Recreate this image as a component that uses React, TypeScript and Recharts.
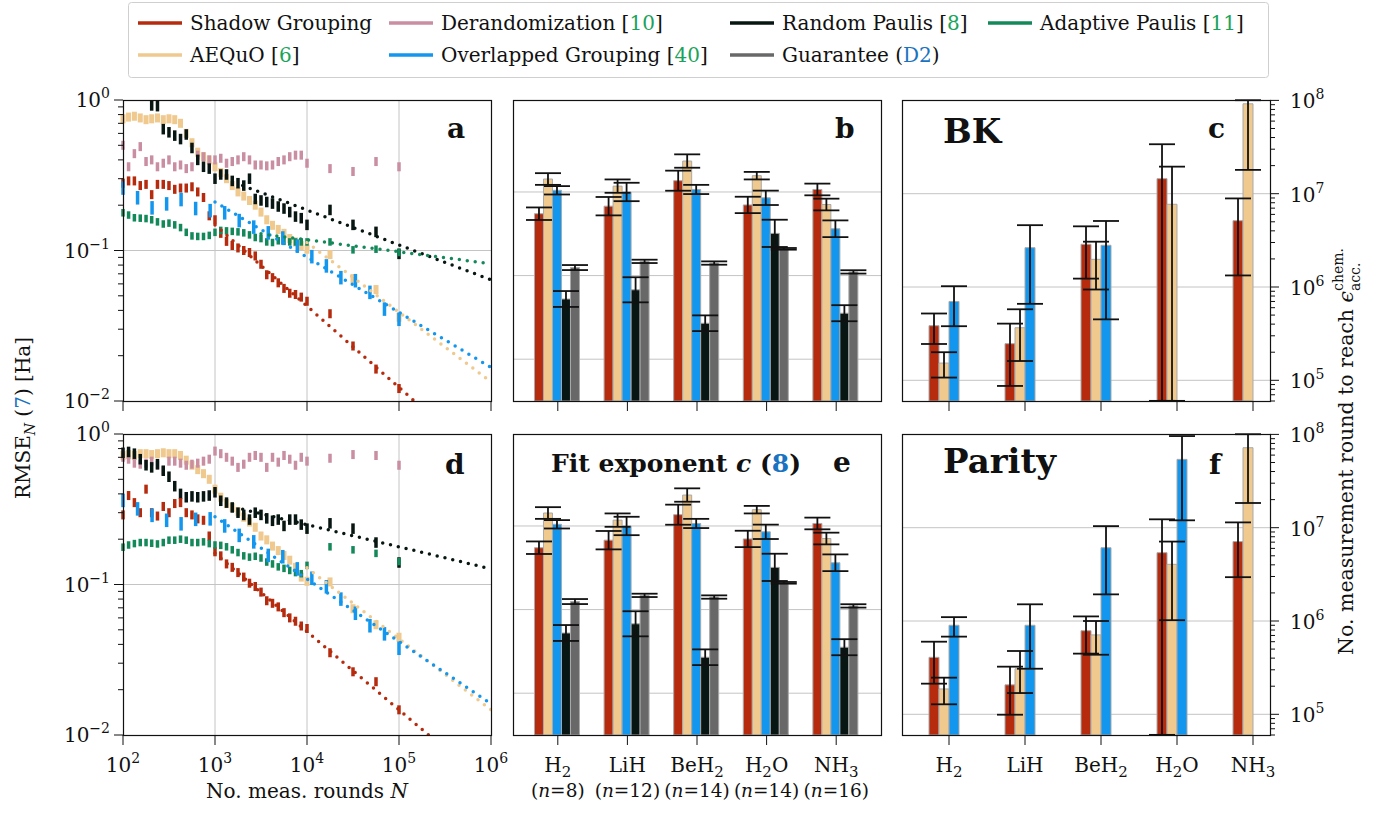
import React from 'react';
import {
  ComposedChart,
  BarChart,
  Bar,
  Scatter,
  Line,
  XAxis,
  YAxis,
  CartesianGrid,
  ErrorBar,
} from 'recharts';

const FONT = '"DejaVu Serif", "Liberation Serif", serif';
const INK = '#111';
const GRID = '#c4c4c4';
const CITE = '#1aa35a';
const LINK = '#1a73c0';

const COLORS = {
  shadow: '#b62b0d',
  derand: '#c98ea2',
  random: '#071612',
  adaptive: '#13895a',
  aequo: '#efc98e',
  overlap: '#1396ee',
  guarantee: '#686868',
};

// ---- panels a / d : RMSE vs N ----
const N_GRID = [
  100, 115, 133, 154, 178, 205, 237, 274, 316, 365, 422, 487, 562, 649, 750, 866, 1000,
  1155, 1334, 1540, 1778, 2054, 2371, 2738, 3162, 3652, 4217, 4870, 5623, 6494, 7499, 8660, 10000,
  17783, 31623, 56234, 100000,
];
const N_OVERLAP = [
  100, 144, 207, 298, 428, 616, 886, 1274, 1833, 2637, 3793, 5456, 7848, 11290, 16240, 23357,
  33598, 48329, 69519, 100000,
];

// null = above the plotted range
const A_SHADOW = [0.28, 0.29, 0.29, 0.27, 0.275, 0.235, 0.275, 0.275, 0.27, 0.255, 0.26, 0.26, 0.265, 0.245, 0.225, 0.17, 0.16, 0.13, 0.115, 0.108, 0.104, 0.1, 0.097, 0.092, 0.081, 0.069, 0.066, 0.061, 0.056, 0.052, 0.051, 0.049, 0.046, 0.038, 0.0232, 0.0163, 0.0121];
const A_AEQUO = [0.75, 0.77, 0.78, 0.76, 0.74, 0.75, 0.76, 0.74, 0.75, 0.74, 0.7, 0.6, 0.52, 0.45, 0.42, 0.4, 0.36, 0.33, 0.3, 0.27, 0.245, 0.23, 0.215, 0.2, 0.18, 0.16, 0.147, 0.138, 0.13, 0.12, 0.114, 0.108, 0.102, 0.094, 0.065, 0.055, 0.036];
const A_DERAND = [0.5, 0.36, 0.44, 0.49, 0.39, 0.4, 0.36, 0.38, 0.4, 0.36, 0.37, 0.35, 0.36, 0.43, 0.42, 0.4, 0.4, 0.41, 0.38, 0.39, 0.4, 0.42, 0.4, 0.37, 0.37, 0.365, 0.37, 0.39, 0.4, 0.42, 0.43, 0.43, 0.38, 0.35, 0.335, 0.39, 0.36];
const A_RANDOM = [null, null, null, null, null, 0.92, 0.91, 0.64, 0.61, 0.58, 0.55, 0.59, 0.48, 0.4, 0.36, 0.35, 0.3, 0.32, 0.32, 0.29, 0.28, 0.27, 0.3, 0.22, 0.215, 0.21, 0.205, 0.196, 0.19, 0.18, 0.168, 0.164, 0.148, 0.186, 0.148, 0.133, 0.095];
const A_ADAPTIVE = [0.178, 0.172, 0.165, 0.164, 0.163, 0.16, 0.155, 0.15, 0.152, 0.148, 0.142, 0.132, 0.125, 0.124, 0.124, 0.126, 0.132, 0.136, 0.135, 0.134, 0.133, 0.131, 0.127, 0.122, 0.12, 0.114, 0.113, 0.116, 0.115, 0.114, 0.114, 0.114, 0.114, 0.114, 0.101, 0.102, 0.097];
const A_OVERLAP = [0.26, 0.224, 0.192, 0.204, 0.218, 0.19, 0.184, 0.178, 0.158, 0.143, 0.131, 0.121, 0.107, 0.091, 0.079, 0.066, 0.063, 0.0527, 0.0408, 0.0349];

const D_SHADOW = [0.29, 0.39, 0.35, 0.3, 0.43, 0.3, 0.285, 0.33, 0.3, 0.345, 0.35, 0.3, 0.29, 0.273, 0.267, 0.21, 0.165, 0.155, 0.137, 0.13, 0.12, 0.112, 0.102, 0.097, 0.089, 0.078, 0.075, 0.071, 0.065, 0.06, 0.057, 0.053, 0.051, 0.0352, 0.0263, 0.0226, 0.0147];
const D_AEQUO = [0.72, 0.73, 0.72, 0.74, 0.74, 0.73, 0.74, 0.75, 0.74, 0.74, 0.72, 0.67, 0.62, 0.58, 0.545, 0.5, 0.43, 0.38, 0.345, 0.325, 0.305, 0.28, 0.26, 0.24, 0.21, 0.198, 0.18, 0.168, 0.156, 0.145, 0.13, 0.112, 0.105, 0.104, 0.069, 0.054, 0.0446];
const D_DERAND = [0.7, 0.68, 0.64, 0.63, 0.64, 0.66, 0.62, 0.57, 0.66, 0.66, 0.64, 0.62, 0.63, 0.64, 0.66, 0.68, 0.77, 0.74, 0.7, 0.66, 0.6, 0.63, 0.7, 0.72, 0.7, 0.6, 0.7, 0.65, 0.72, 0.68, 0.62, 0.7, 0.66, 0.69, 0.73, 0.72, 0.62];
const D_RANDOM = [0.75, 0.76, 0.74, 0.68, 0.62, 0.6, 0.63, 0.57, 0.52, 0.45, 0.4, 0.38, 0.385, 0.38, 0.385, 0.39, 0.41, 0.36, 0.35, 0.325, 0.3, 0.29, 0.27, 0.3, 0.29, 0.275, 0.265, 0.27, 0.245, 0.27, 0.27, 0.25, 0.235, 0.255, 0.235, 0.19, 0.14];
const D_ADAPTIVE = [0.177, 0.183, 0.187, 0.19, 0.19, 0.188, 0.186, 0.19, 0.197, 0.197, 0.2, 0.197, 0.19, 0.19, 0.192, 0.187, 0.183, 0.182, 0.178, 0.17, 0.163, 0.155, 0.152, 0.154, 0.15, 0.141, 0.137, 0.131, 0.128, 0.124, 0.12, 0.118, 0.134, 0.178, 0.17, 0.161, 0.142];
const D_OVERLAP = [0.362, 0.318, 0.288, 0.267, 0.253, 0.271, 0.273, 0.245, 0.212, 0.192, 0.156, 0.153, 0.127, 0.11, 0.0966, 0.08, 0.0644, 0.0532, 0.047, 0.0377];

// half length of each vertical mark, in decades
const SPREAD = { shadow: 0.03, aequo: 0.03, derand: 0.03, random: 0.035, adaptive: 0.025, overlap: 0.045 };

// dotted power-law fits: [start, end]
const A_FITS = [
  { key: 'aequo', n: [1e4, 1e6], v: [0.113, 0.0134] },
  { key: 'overlap', n: [1e3, 1e6], v: [0.21, 0.0167] },
  { key: 'shadow', n: [1e3, 1e6], v: [0.148, 0.00355] },
  { key: 'random', n: [2e3, 1e6], v: [0.27, 0.0638] },
  { key: 'adaptive', n: [3162, 1e6], v: [0.129, 0.0817] },
];
const D_FITS = [
  { key: 'aequo', n: [1e4, 1e6], v: [0.129, 0.0147] },
  { key: 'overlap', n: [1e3, 1e6], v: [0.282, 0.0161] },
  { key: 'shadow', n: [1e3, 1e6], v: [0.161, 0.00444] },
  { key: 'random', n: [2e3, 1e6], v: [0.316, 0.127] },
];

const X_TICKS = [1e2, 1e3, 1e4, 1e5, 1e6];
const Y_TICKS = [0.01, 0.02, 0.03, 0.04, 0.05, 0.06, 0.07, 0.08, 0.09, 0.1, 0.2, 0.3, 0.4, 0.5, 0.6, 0.7, 0.8, 0.9, 1];

// ---- panels b / e : fit exponent ----
const MOLECULES = ['H2', 'LiH', 'BeH2', 'H2O', 'NH3'];
const QUBITS = ['8', '12', '14', '14', '16'];

const FIT_SHADOW = [0.374, 0.383, 0.4135, 0.3845, 0.403];
const FIT_SHADOW_ERR = [0.0075, 0.011, 0.012, 0.0098, 0.007];
const FIT_AEQUO = [0.4155, 0.407, 0.437, 0.4195, 0.385];
const FIT_AEQUO_ERR = [0.007, 0.008, 0.008, 0.0045, 0.007];
const FIT_OVERLAP = [0.402, 0.4, 0.403, 0.393, 0.356];
const FIT_OVERLAP_ERR = [0.005, 0.011, 0.0055, 0.0086, 0.01];
const FIT_RANDOM = [0.272, 0.283, 0.243, 0.3505, 0.255];
const FIT_RANDOM_ERR = [0.0095, 0.015, 0.0094, 0.0163, 0.0096];
const FIT_GUARANTEE = [0.3096, 0.317, 0.315, 0.332, 0.3044];
const FIT_GUARANTEE_ERR = [0.003, 0.002, 0.002, 0.001, 0.002];

// ---- panels c / f : rounds to chemical accuracy (bounds cut at the axis limits) ----
const BK_SHADOW = [3.85e5, 2.47e5, 2.87e6, 1.45e7, 5.14e6];
const BK_SHADOW_LO = [2.45e5, 8.7e4, 1.23e6, 6.02e4, 1.33e6];
const BK_SHADOW_HI = [5.2e5, 4.05e5, 4.47e6, 3.39e7, 8.9e6];
const BK_AEQUO = [1.53e5, 3.66e5, 1.98e6, 7.7e6, 9.2e7];
const BK_AEQUO_LO = [1.07e5, 1.61e5, 9.4e5, 6.02e4, 1.8e7];
const BK_AEQUO_HI = [2.0e5, 5.77e5, 3.06e6, 1.95e7, 1.005e8];
const BK_OVERLAP = [7.0e5, 2.64e6, 2.8e6, null, null];
const BK_OVERLAP_LO = [3.8e5, 6.6e5, 4.5e5, null, null];
const BK_OVERLAP_HI = [1.02e6, 4.6e6, 5.1e6, null, null];

const PAR_SHADOW = [4.08e5, 2.07e5, 7.87e5, 5.4e6, 7.1e6];
const PAR_SHADOW_LO = [2.13e5, 9.9e4, 4.47e5, 6.02e4, 2.95e6];
const PAR_SHADOW_HI = [6.0e5, 3.24e5, 1.12e6, 1.23e7, 1.14e7];
const PAR_AEQUO = [1.87e5, 3.08e5, 7.1e5, 4.05e6, 7.2e7];
const PAR_AEQUO_LO = [1.28e5, 1.69e5, 4.35e5, 1.02e6, 1.84e7];
const PAR_AEQUO_HI = [2.47e5, 4.77e5, 1.0e6, 7.1e6, 1.005e8];
const PAR_OVERLAP = [9.0e5, 9.0e5, 6.1e6, 5.4e7, null];
const PAR_OVERLAP_LO = [6.8e5, 3.08e5, 1.93e6, 1.2e7, null];
const PAR_OVERLAP_HI = [1.1e6, 1.51e6, 1.04e7, 9.6e7, null];

const R_TICKS = [
  6e4, 7e4, 8e4, 9e4, 1e5, 2e5, 3e5, 4e5, 5e5, 6e5, 7e5, 8e5, 9e5, 1e6, 2e6, 3e6, 4e6, 5e6, 6e6,
  7e6, 8e6, 9e6, 1e7, 2e7, 3e7, 4e7, 5e7, 6e7, 7e7, 8e7, 9e7, 1e8,
];

// ---- layout ----
const PW = 368;
const PH = 301;
const COL_X = [123, 513, 902];
const ROW_Y = [100, 434];
const PAD = { l: 100, r: 100, t: 20, b: 80 };

const pts = (ns: number[], vs: (number | null)[], spread: number) => {
  const f = Math.pow(10, spread);
  return vs
    .map((v, i) => (v == null ? null : { n: ns[i], v, e: [v - v / f, v * f - v] }))
    .filter(Boolean) as { n: number; v: number; e: number[] }[];
};

const fitPts = (ns: number[], vs: number[]) => ns.map((n, i) => ({ n, v: vs[i] }));

const bounds = (v: number | null, lo: number | null, hi: number | null) =>
  v == null || lo == null || hi == null ? undefined : [v - lo, hi - v];

const isPow10 = (v: number) => Math.abs(Math.log10(v) - Math.round(Math.log10(v))) < 1e-9;
const expo = (v: number) => {
  const e = Math.round(Math.log10(v));
  return e < 0 ? `\u2212${-e}` : `${e}`;
};

const chem = (s: string) =>
  s
    .split(/(\d+)/)
    .filter(Boolean)
    .map((part, i) =>
      /\d/.test(part) ? (
        <tspan key={i} dy={5} fontSize={15}>
          {part}
        </tspan>
      ) : (
        <tspan key={i} dy={i === 0 ? 0 : -5}>
          {part}
        </tspan>
      ),
    );

const NoShape = () => <g />;

function LeftLogTick(props: any) {
  const { x, y, payload } = props;
  const major = isPow10(payload.value);
  return (
    <g>
      <line x1={x} x2={x - (major ? 9 : 5)} y1={y} y2={y} stroke={INK} />
      {major && (
        <text x={x - 13} y={y + 7} textAnchor="end" fontFamily={FONT} fontSize={20} fill={INK}>
          10
          <tspan dy={-9} fontSize={14}>
            {expo(payload.value)}
          </tspan>
        </text>
      )}
    </g>
  );
}

function RightLogTick(props: any) {
  const { x, y, payload } = props;
  const major = isPow10(payload.value);
  return (
    <g>
      <line x1={x} x2={x + (major ? 9 : 5)} y1={y} y2={y} stroke={INK} />
      {major && (
        <text x={x + 20} y={y + 8} textAnchor="start" fontFamily={FONT} fontSize={20} fill={INK}>
          10
          <tspan dy={-9} fontSize={14}>
            {expo(payload.value)}
          </tspan>
        </text>
      )}
    </g>
  );
}

function BottomLogTick(props: any) {
  const { x, y, payload, showLabel } = props;
  return (
    <g>
      <line x1={x} x2={x} y1={y} y2={y + 10} stroke={INK} />
      {showLabel && (
        <text x={x} y={y + 37} textAnchor="middle" fontFamily={FONT} fontSize={20} fill={INK}>
          10
          <tspan dy={-9} fontSize={14}>
            {expo(payload.value)}
          </tspan>
        </text>
      )}
    </g>
  );
}

function MolTick(props: any) {
  const { x, y, payload, index, showLabel, showQubits } = props;
  return (
    <g>
      <line x1={x} x2={x} y1={y} y2={y + 10} stroke={INK} />
      {showLabel && (
        <text x={x} y={y + 37} textAnchor="middle" fontFamily={FONT} fontSize={20} fill={INK}>
          {chem(payload.value)}
        </text>
      )}
      {showQubits && (
        <text x={x} y={y + 62} textAnchor="middle" fontFamily={FONT} fontSize={18.5} fill={INK}>
          (<tspan fontStyle="italic">n</tspan>={QUBITS[index]})
        </text>
      )}
    </g>
  );
}

type Series = { key: keyof typeof COLORS; ns: number[]; vs: (number | null)[]; w: number };

function RmsePanel({ x, y, series, fits, showLabels }: { x: number; y: number; series: Series[]; fits: typeof A_FITS; showLabels: boolean }) {
  return (
    <div style={{ position: 'absolute', left: x - PAD.l, top: y - PAD.t }}>
      <ComposedChart width={PAD.l + PW + PAD.r} height={PAD.t + PH + PAD.b} margin={{ top: PAD.t, right: PAD.r, bottom: 0, left: 0 }}>
        <CartesianGrid stroke={GRID} horizontalValues={[0.1]} verticalValues={[1e3, 1e4, 1e5]} />
        <XAxis
          dataKey="n"
          type="number"
          scale="log"
          domain={[100, 1e6]}
          ticks={X_TICKS}
          allowDataOverflow
          height={PAD.b}
          axisLine={false}
          tickLine={false}
          tickSize={0}
          tickMargin={0}
          interval={0}
          tick={<BottomLogTick showLabel={showLabels} />}
        />
        <YAxis
          dataKey="v"
          type="number"
          scale="log"
          domain={[0.01, 1]}
          ticks={Y_TICKS}
          allowDataOverflow
          width={PAD.l}
          axisLine={false}
          tickLine={false}
          tickSize={0}
          tickMargin={0}
          interval={0}
          tick={<LeftLogTick />}
        />
        {series.map((s) => (
          <Scatter key={s.key} data={pts(s.ns, s.vs, SPREAD[s.key])} dataKey="v" shape={NoShape} isAnimationActive={false}>
            <ErrorBar dataKey="e" direction="y" width={0} stroke={COLORS[s.key]} strokeWidth={s.w} />
          </Scatter>
        ))}
        {fits.map((f) => (
          <Line
            key={f.key}
            data={fitPts(f.n, f.v)}
            dataKey="v"
            stroke={COLORS[f.key as keyof typeof COLORS]}
            strokeWidth={3.5}
            strokeDasharray="0 8"
            strokeLinecap="round"
            dot={false}
            isAnimationActive={false}
          />
        ))}
      </ComposedChart>
    </div>
  );
}

const FIT_TABLE = MOLECULES.map((mol, i) => ({
  mol,
  shadow: FIT_SHADOW[i],
  shadowErr: FIT_SHADOW_ERR[i],
  aequo: FIT_AEQUO[i],
  aequoErr: FIT_AEQUO_ERR[i],
  overlap: FIT_OVERLAP[i],
  overlapErr: FIT_OVERLAP_ERR[i],
  random: FIT_RANDOM[i],
  randomErr: FIT_RANDOM_ERR[i],
  guarantee: FIT_GUARANTEE[i],
  guaranteeErr: FIT_GUARANTEE_ERR[i],
}));

const roundsTable = (s: any[], sl: any[], sh: any[], a: any[], al: any[], ah: any[], o: any[], ol: any[], oh: any[]) =>
  MOLECULES.map((mol, i) => ({
    mol,
    shadow: s[i],
    shadowErr: bounds(s[i], sl[i], sh[i]),
    aequo: a[i],
    aequoErr: bounds(a[i], al[i], ah[i]),
    overlap: o[i],
    overlapErr: bounds(o[i], ol[i], oh[i]),
  }));

const BK_TABLE = roundsTable(BK_SHADOW, BK_SHADOW_LO, BK_SHADOW_HI, BK_AEQUO, BK_AEQUO_LO, BK_AEQUO_HI, BK_OVERLAP, BK_OVERLAP_LO, BK_OVERLAP_HI);
const PAR_TABLE = roundsTable(PAR_SHADOW, PAR_SHADOW_LO, PAR_SHADOW_HI, PAR_AEQUO, PAR_AEQUO_LO, PAR_AEQUO_HI, PAR_OVERLAP, PAR_OVERLAP_LO, PAR_OVERLAP_HI);

const BAR_EDGE = '#a9a9a9';

function ExponentPanel({ x, y, showLabels }: { x: number; y: number; showLabels: boolean }) {
  const keys: (keyof typeof COLORS)[] = ['shadow', 'aequo', 'overlap', 'random', 'guarantee'];
  return (
    <div style={{ position: 'absolute', left: x - PAD.l, top: y - PAD.t }}>
      <BarChart
        width={PAD.l + PW + PAD.r}
        height={PAD.t + PH + PAD.b}
        data={FIT_TABLE}
        margin={{ top: PAD.t, right: PAD.r, bottom: 0, left: PAD.l }}
        barCategoryGap="16.5%"
        barGap={0}
      >
        <CartesianGrid stroke={GRID} vertical={false} horizontalValues={[0.2, 0.3, 0.4]} />
        <XAxis
          dataKey="mol"
          height={PAD.b}
          padding={{ left: 10, right: 10 }}
          axisLine={false}
          tickLine={false}
          tickSize={0}
          tickMargin={0}
          interval={0}
          tick={<MolTick showLabel={showLabels} showQubits={showLabels} />}
        />
        <YAxis hide type="number" domain={[0.15, 0.51]} allowDataOverflow />
        {keys.map((k) => (
          <Bar key={k} dataKey={k} fill={COLORS[k]} stroke={BAR_EDGE} strokeWidth={1} isAnimationActive={false}>
            <ErrorBar dataKey={`${k}Err`} width={13} stroke={INK} strokeWidth={1.8} />
          </Bar>
        ))}
      </BarChart>
    </div>
  );
}

function RoundsPanel({ x, y, data, showLabels }: { x: number; y: number; data: any[]; showLabels: boolean }) {
  const keys: (keyof typeof COLORS)[] = ['shadow', 'aequo', 'overlap'];
  return (
    <div style={{ position: 'absolute', left: x - PAD.l, top: y - PAD.t }}>
      <BarChart
        width={PAD.l + PW + PAD.r}
        height={PAD.t + PH + PAD.b}
        data={data}
        margin={{ top: PAD.t, right: 0, bottom: 0, left: PAD.l }}
        barCategoryGap="23.7%"
        barGap={0}
      >
        <CartesianGrid stroke={GRID} vertical={false} horizontalValues={[1e5, 1e6, 1e7]} />
        <XAxis
          dataKey="mol"
          height={PAD.b}
          padding={{ left: 9, right: -21 }}
          axisLine={false}
          tickLine={false}
          tickSize={0}
          tickMargin={0}
          interval={0}
          tick={<MolTick showLabel={showLabels} showQubits={false} />}
        />
        <YAxis
          orientation="right"
          type="number"
          scale="log"
          domain={[6e4, 1.01e8]}
          ticks={R_TICKS}
          allowDataOverflow
          width={PAD.r}
          axisLine={false}
          tickLine={false}
          tickSize={0}
          tickMargin={0}
          interval={0}
          tick={<RightLogTick />}
        />
        {keys.map((k) => (
          <Bar key={k} dataKey={k} fill={COLORS[k]} stroke={BAR_EDGE} strokeWidth={1} isAnimationActive={false}>
            <ErrorBar dataKey={`${k}Err`} width={13} stroke={INK} strokeWidth={1.8} />
          </Bar>
        ))}
        <Bar dataKey="slot" fill="none" isAnimationActive={false} />
      </BarChart>
    </div>
  );
}

const LEGEND_ITEMS: { key: keyof typeof COLORS; label: string; cite: string }[] = [
  { key: 'shadow', label: 'Shadow Grouping', cite: '' },
  { key: 'derand', label: 'Derandomization', cite: '10' },
  { key: 'random', label: 'Random Paulis', cite: '8' },
  { key: 'adaptive', label: 'Adaptive Paulis', cite: '11' },
  { key: 'aequo', label: 'AEQuO', cite: '6' },
  { key: 'overlap', label: 'Overlapped Grouping', cite: '40' },
  { key: 'guarantee', label: 'Guarantee', cite: 'D2' },
];
const LEGEND_COLS = [138, 389, 730, 988];
const LEGEND_ROWS = [23, 55];

function Overlay() {
  const frames = [0, 1].flatMap((r) => [0, 1, 2].map((c) => ({ x: COL_X[c], y: ROW_Y[r] })));
  const txt = { fontFamily: FONT, fill: INK };
  return (
    <svg width={1387} height={815} style={{ position: 'absolute', left: 0, top: 0, pointerEvents: 'none' }}>
      {frames.map((f, i) => (
        <rect key={i} x={f.x + 0.5} y={f.y + 0.5} width={PW} height={PH} fill="none" stroke={INK} strokeWidth={1.2} />
      ))}

      <rect x={128.5} y={2.5} width={1140} height={75} rx={3} fill="white" stroke="#cfcfcf" />
      {LEGEND_ITEMS.map((it, i) => {
        const lx = LEGEND_COLS[i % 4];
        const ly = LEGEND_ROWS[Math.floor(i / 4)];
        return (
          <g key={it.key}>
            <line x1={lx} x2={lx + 44} y1={ly} y2={ly} stroke={COLORS[it.key]} strokeWidth={3.5} />
            <text x={lx + 52} y={ly + 7} fontSize={20} {...txt}>
              {it.label}
              {it.cite === 'D2' ? (
                <>
                  {' ('}
                  <tspan fill={LINK}>D2</tspan>)
                </>
              ) : it.cite ? (
                <>
                  {' ['}
                  <tspan fill={CITE}>{it.cite}</tspan>]
                </>
              ) : null}
            </text>
          </g>
        );
      })}

      <g fontWeight="bold" fontSize={28} {...txt}>
        <text x={447} y={138}>a</text>
        <text x={835} y={138}>b</text>
        <text x={1208} y={138}>c</text>
        <text x={445} y={474}>d</text>
        <text x={833} y={472}>e</text>
        <text x={1209} y={474}>f</text>
      </g>
      <text x={943} y={143} fontWeight="bold" fontSize={34} {...txt}>
        BK
      </text>
      <text x={943} y={473} fontWeight="bold" fontSize={34} {...txt}>
        Parity
      </text>
      <text x={551} y={472} fontWeight="bold" fontSize={25} {...txt}>
        Fit exponent <tspan fontStyle="italic">c</tspan> (<tspan fill={LINK}>8</tspan>)
      </text>

      <text transform="rotate(-90 30 418)" x={30} y={418} textAnchor="middle" fontSize={20} {...txt}>
        RMSE
        <tspan dy={5} fontSize={14} fontStyle="italic">
          N
        </tspan>
        <tspan dy={-5}> (</tspan>
        <tspan fill={LINK}>7</tspan>) [Ha]
      </text>

      <text transform="rotate(-90 1353 655)" x={1353} y={655} fontSize={20.5} {...txt}>
        No. measurement round to reach <tspan fontStyle="italic">ϵ</tspan>
        <tspan dy={-10} fontSize={14}>
          chem.
        </tspan>
        <tspan dx={-43} dy={17} fontSize={14}>
          acc.
        </tspan>
      </text>

      <text x={307} y={798} textAnchor="middle" fontSize={20} {...txt}>
        No. meas. rounds <tspan fontStyle="italic">N</tspan>
      </text>
    </svg>
  );
}

const A_SERIES: Series[] = [
  { key: 'aequo', ns: N_GRID, vs: A_AEQUO, w: 5 },
  { key: 'derand', ns: N_GRID, vs: A_DERAND, w: 3.5 },
  { key: 'random', ns: N_GRID, vs: A_RANDOM, w: 3.5 },
  { key: 'shadow', ns: N_GRID, vs: A_SHADOW, w: 3.5 },
  { key: 'adaptive', ns: N_GRID, vs: A_ADAPTIVE, w: 3.5 },
  { key: 'overlap', ns: N_OVERLAP, vs: A_OVERLAP, w: 3.5 },
];
const D_SERIES: Series[] = [
  { key: 'aequo', ns: N_GRID, vs: D_AEQUO, w: 5 },
  { key: 'derand', ns: N_GRID, vs: D_DERAND, w: 3.5 },
  { key: 'random', ns: N_GRID, vs: D_RANDOM, w: 3.5 },
  { key: 'shadow', ns: N_GRID, vs: D_SHADOW, w: 3.5 },
  { key: 'adaptive', ns: N_GRID, vs: D_ADAPTIVE, w: 3.5 },
  { key: 'overlap', ns: N_OVERLAP, vs: D_OVERLAP, w: 3.5 },
];

export default function App() {
  return (
    <div style={{ position: 'absolute', left: 0, top: 0, width: 1387, height: 815, background: 'white', overflow: 'hidden' }}>
      <RmsePanel x={COL_X[0]} y={ROW_Y[0]} series={A_SERIES} fits={A_FITS} showLabels={false} />
      <RmsePanel x={COL_X[0]} y={ROW_Y[1]} series={D_SERIES} fits={D_FITS} showLabels />
      <ExponentPanel x={COL_X[1]} y={ROW_Y[0]} showLabels={false} />
      <ExponentPanel x={COL_X[1]} y={ROW_Y[1]} showLabels />
      <RoundsPanel x={COL_X[2]} y={ROW_Y[0]} data={BK_TABLE} showLabels={false} />
      <RoundsPanel x={COL_X[2]} y={ROW_Y[1]} data={PAR_TABLE} showLabels />
      <Overlay />
    </div>
  );
}
